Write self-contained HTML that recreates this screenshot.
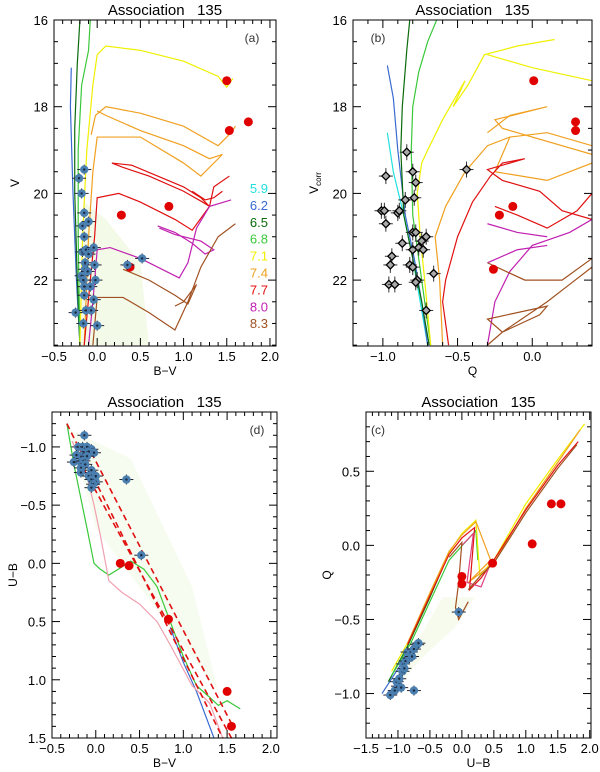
<!DOCTYPE html>
<html><head><meta charset="utf-8"><style>
html,body{margin:0;padding:0;background:#fff;}
svg{display:block;font-family:"Liberation Sans",sans-serif;}
</style></head><body>
<svg id="fig" width="600" height="772" viewBox="0 0 600 772" xmlns="http://www.w3.org/2000/svg"></svg>
<script>
// ---------- DATA ----------
const legendAges = ["5.9","6.2","6.5","6.8","7.1","7.4","7.7","8.0","8.3"];
const legendColors = ["#22e0e0","#3a6ad0","#0a6a0a","#3ac83a","#f0f000","#f0a020","#e01010","#c020b0","#a05020"];

// Panel a: B-V vs V
const aIso = [
 {c:"#3a6ad0", p:[[-0.3,17.1],[-0.31,18],[-0.28,20],[-0.24,22],[-0.2,23.5]]},
 {c:"#0a6a0a", p:[[-0.2,16],[-0.23,17],[-0.26,18.5],[-0.26,20],[-0.23,22],[-0.2,23.5]]},
 {c:"#3ac83a", p:[[-0.08,16],[-0.1,16.7],[-0.18,17.5],[-0.22,19],[-0.22,21],[-0.2,23.5]]},
 {c:"#f0f000", p:[[-0.2,23.5],[-0.17,21],[-0.12,19],[-0.05,17.5],[0.0,16.8],[0.1,16.6],[0.5,16.7],[1.0,16.95],[1.4,17.3],[1.5,17.55],[1.57,17.35]]},
 {c:"#f0a020", p:[[-0.07,18.65],[-0.02,18.2],[0.1,18.0],[0.5,18.15],[1.0,18.45],[1.4,18.9],[1.55,18.6],[1.6,18.45]]},
 {c:"#f0a020", p:[[0.0,18.1],[0.1,18.2],[0.5,18.55],[1.0,18.9],[1.3,19.2],[1.45,19.1]]},
 {c:"#f0a020", p:[[-0.15,23.5],[-0.1,21],[-0.05,19.5],[0.0,18.7],[0.5,18.7],[1.0,19.3],[1.2,19.6],[1.45,19.1]]},
 {c:"#e01010", p:[[-0.15,23.5],[-0.08,22],[-0.03,21],[0.0,20.1],[0.25,20.0],[0.5,20.2],[0.9,20.6],[1.1,20.85],[1.3,20.3],[1.35,19.85],[1.53,19.6]]},
 {c:"#e01010", p:[[0.17,19.3],[0.4,19.35],[0.7,19.6],[1.0,19.85],[1.2,20.1],[1.3,20.3],[1.22,20.2],[1.0,19.95],[0.6,19.6],[0.3,19.4],[0.17,19.3]]},
 {c:"#e01010", p:[[1.1,19.95],[1.25,20.15],[1.35,20.1],[1.45,19.95]]},
 {c:"#c020b0", p:[[-0.1,23.5],[-0.05,22.5],[0.0,21.3],[0.15,21.25],[0.5,21.5],[0.95,21.95],[1.05,21.6],[1.15,20.8],[1.3,20.3],[1.55,20.15]]},
 {c:"#c020b0", p:[[0.7,20.75],[0.9,20.9],[1.1,21.15],[1.25,21.4],[1.35,21.3],[1.2,21.1],[0.9,20.95],[0.72,20.8]]},
 {c:"#a05020", p:[[-0.05,23.5],[0.0,22.4],[0.3,22.4],[0.6,22.75],[0.9,23.15],[1.05,22.5],[1.2,21.7],[1.4,21.0],[1.6,20.7]]},
 {c:"#a05020", p:[[0.3,21.75],[0.6,22.0],[0.9,22.35],[1.05,22.55],[1.15,22.1],[1.0,22.5],[0.9,22.6]]}
];
const aRedX = [1.5,1.75,1.53,0.83,0.28,0.38];
const aRedY = [17.4,18.35,18.55,20.3,20.5,21.7];
const aBlueX = [-0.15,-0.21,-0.18,-0.15,-0.1,-0.17,-0.15,-0.17,-0.13,-0.1,-0.04,-0.14,-0.14,-0.03,-0.18,-0.16,-0.11,-0.15,-0.08,-0.02,-0.15,-0.04,-0.25,-0.13,-0.07,-0.16,0.0,0.35,0.52];
const aBlueY = [19.45,19.65,20.0,20.45,20.65,20.75,21.0,21.35,21.3,21.4,21.25,21.6,21.75,21.65,21.9,22.0,21.8,22.15,22.15,22.0,22.35,22.45,22.75,22.7,22.7,23.0,23.05,21.65,21.5];

// Panel b: Q vs Vcorr
const bIso = [
 {c:"#22e0e0", p:[[-0.97,18.6],[-0.93,19.5],[-0.86,20.5],[-0.8,21.5],[-0.75,22.5],[-0.7,23.5]]},
 {c:"#3a6ad0", p:[[-0.97,17.05],[-0.93,17.8],[-0.9,19],[-0.85,20.5],[-0.79,21.5],[-0.74,22.5],[-0.7,23.5]]},
 {c:"#0a6a0a", p:[[-0.82,16],[-0.84,16.7],[-0.87,18],[-0.88,19],[-0.86,20.5],[-0.8,21.5],[-0.74,22.5],[-0.69,23.5]]},
 {c:"#3ac83a", p:[[-0.64,16],[-0.7,16.5],[-0.76,17.2],[-0.8,18],[-0.81,19],[-0.8,20.5],[-0.76,21.5],[-0.72,22.5],[-0.68,23.5]]},
 {c:"#f0f000", p:[[-0.68,23.5],[-0.72,22],[-0.75,21],[-0.77,20],[-0.74,19.3],[-0.7,19.0],[-0.6,18.3],[-0.5,17.7],[-0.45,17.4],[-0.53,18],[-0.43,17.5],[-0.32,16.8],[-0.1,16.6],[0.15,16.45]]},
 {c:"#f0f000", p:[[-0.3,16.8],[0.0,17.1],[0.4,17.4]]},
 {c:"#f0a020", p:[[-0.6,23.5],[-0.62,22],[-0.65,21],[-0.58,20.3],[-0.45,19.5],[-0.3,18.9],[-0.15,18.7],[0.1,18.6],[0.4,18.9]]},
 {c:"#f0a020", p:[[-0.3,18.6],[-0.15,18.2],[0.1,18.0],[-0.25,18.3],[-0.2,18.5],[0.4,19.1]]},
 {c:"#f0a020", p:[[-0.15,18.7],[-0.25,19.5],[0.1,19.7],[0.4,19.3]]},
 {c:"#e01010", p:[[-0.56,23.5],[-0.6,22.5],[-0.58,22],[-0.5,21],[-0.4,20.2],[-0.28,19.6],[-0.2,19.3],[-0.05,19.2],[-0.3,19.45],[-0.2,19.7],[0.05,19.95],[0.2,20.4],[0.4,20.6]]},
 {c:"#e01010", p:[[-0.25,20.3],[-0.1,20.5],[0.1,20.8],[0.3,20.4],[0.4,20.0]]},
 {c:"#c020b0", p:[[-0.3,23.5],[-0.25,22.5],[-0.15,21.8],[0.0,21.2],[0.25,20.9],[0.4,20.6]]},
 {c:"#c020b0", p:[[-0.3,20.7],[-0.1,20.9],[0.1,21.0]]},
 {c:"#c020b0", p:[[-0.3,21.6],[-0.1,21.3],[0.1,21.2]]},
 {c:"#a05020", p:[[-0.3,23.5],[-0.2,23.2],[0.05,22.8],[0.1,22.6],[-0.3,22.9],[-0.2,23.2],[0.1,22.5],[0.25,22.1],[0.4,21.7]]},
 {c:"#a05020", p:[[-0.3,21.6],[-0.05,22.0],[0.2,22.0],[0.4,21.5]]}
];
const bRedX = [0.01,0.29,0.29,-0.13,-0.22,-0.26];
const bRedY = [17.4,18.35,18.55,20.3,20.5,21.75];
const bStarX = [-0.84,-0.8,-0.98,-0.78,-0.44,-0.85,-0.79,-1.01,-0.99,-0.9,-0.89,-0.98,-0.87,-0.8,-0.78,-0.71,-0.74,-0.8,-0.76,-0.73,-0.94,-0.95,-0.82,-0.8,-0.66,-0.77,-0.78,-0.96,-0.92,-0.71];
const bStarY = [19.05,19.5,19.6,19.75,19.45,20.15,20.1,20.4,20.4,20.45,20.4,20.7,21.15,20.9,20.9,21.0,21.1,21.3,21.25,21.3,21.45,21.65,21.65,21.7,21.85,22.0,22.05,22.1,22.1,22.7];

// Panel d: B-V vs U-B
const dLines = [
 {c:"#3ac83a", d:false, p:[[-0.33,-1.2],[-0.25,-0.85],[-0.1,-0.3],[-0.02,0.0],[0.05,0.05],[0.15,0.1],[0.3,0.03],[0.4,-0.02],[0.55,0.05],[0.7,0.2],[0.85,0.5],[1.0,0.8],[1.15,1.05],[1.3,1.15],[1.4,1.22],[1.5,1.18],[1.65,1.25]]},
 {c:"#3a6ad0", d:false, p:[[0.85,0.55],[1.0,0.85],[1.15,1.1],[1.35,1.5]]},
 {c:"#f0a0b0", d:false, p:[[-0.27,-1.05],[-0.1,-0.75],[-0.02,-0.5],[0.05,-0.25],[0.15,0.15],[0.3,0.25],[0.5,0.35],[0.7,0.5],[0.85,0.7],[1.1,1.05],[1.3,1.2],[1.45,1.5]]},
 {c:"#e01010", d:true, p:[[-0.33,-1.2],[1.45,1.5]]},
 {c:"#e01010", d:true, p:[[-0.24,-0.95],[1.55,1.5]]},
 {c:"#e01010", d:true, p:[[-0.05,-0.95],[1.58,1.42]]}
];
const dRedX = [0.28,0.38,0.83,1.5,1.55];
const dRedY = [0.0,0.02,0.48,1.1,1.4];
const dBlueX = [-0.13,-0.2,-0.15,-0.1,-0.05,-0.13,-0.08,-0.02,-0.22,-0.15,-0.1,-0.25,-0.17,-0.14,-0.12,-0.17,-0.05,-0.17,-0.08,0.0,-0.05,0.0,-0.03,-0.05,0.35,0.52];
const dBlueY = [-1.1,-1.0,-1.0,-1.0,-0.98,-0.95,-0.96,-0.95,-0.93,-0.9,-0.92,-0.87,-0.87,-0.88,-0.85,-0.82,-0.8,-0.78,-0.75,-0.75,-0.72,-0.7,-0.68,-0.65,-0.72,-0.07];

// Panel c: U-B vs Q
const cLines = [
 {c:"#3a6ad0", p:[[-1.25,-1.0],[-0.95,-0.8],[-0.85,-0.7]]},
 {c:"#0a6a0a", p:[[-1.15,-0.92],[-0.85,-0.68],[-0.5,-0.35],[-0.3,-0.15]]},
 {c:"#3ac83a", p:[[-1.1,-0.88],[-0.8,-0.66],[-0.5,-0.38],[-0.2,-0.1],[0.05,0.02],[0.22,0.1],[0.25,-0.1]]},
 {c:"#f0f000", p:[[-1.1,-0.85],[-0.8,-0.62],[-0.5,-0.33],[-0.2,-0.05],[0.0,0.08],[0.22,0.17],[0.28,-0.2],[0.5,-0.1],[1.0,0.28],[1.5,0.58],[1.92,0.82]]},
 {c:"#f0a020", p:[[-0.85,-0.66],[-0.5,-0.32],[-0.2,-0.04],[0.0,0.07],[0.22,0.16],[0.45,-0.1],[0.1,-0.25],[0.5,-0.12],[1.0,0.25],[1.5,0.56],[1.85,0.78]]},
 {c:"#e01010", p:[[-0.85,-0.67],[-0.5,-0.34],[-0.2,-0.06],[0.0,0.05],[0.2,0.12],[0.12,-0.3],[0.3,-0.22],[0.5,-0.1],[1.0,0.24],[1.5,0.54],[1.82,0.7]]},
 {c:"#e04080", p:[[0.0,0.0],[0.18,0.08],[0.08,-0.25],[0.3,-0.28],[0.45,-0.12]]},
 {c:"#a05020", p:[[-0.2,-0.08],[0.0,0.02],[-0.05,-0.25],[-0.1,-0.42],[-0.05,-0.5],[0.1,-0.38]]},
 {c:"#a05020", p:[[0.1,-0.3],[0.3,-0.2],[0.5,-0.12],[1.0,0.22],[1.5,0.52],[1.8,0.68]]}
];
const cRedX = [0.0,0.0,0.48,1.1,1.4,1.55];
const cRedY = [-0.21,-0.26,-0.12,0.01,0.28,0.28];
const cBlueX = [-0.05,-0.75,-1.12,-1.05,-1.0,-1.02,-0.98,-0.95,-0.93,-0.92,-0.88,-0.85,-0.8,-0.82,-0.78,-0.75,-0.7,-0.68,-0.9];
const cBlueY = [-0.45,-0.98,-1.01,-0.98,-0.95,-0.92,-0.9,-0.96,-0.85,-0.8,-0.78,-0.72,-0.72,-0.76,-0.75,-0.7,-0.67,-0.66,-0.83];

// ---------- DRAWING ----------
const NS = "http://www.w3.org/2000/svg";
const svg = document.getElementById("fig");
function mk(tag, attrs, parent) {
  const e = document.createElementNS(NS, tag);
  for (const k in attrs) e.setAttribute(k, attrs[k]);
  (parent || svg).appendChild(e);
  return e;
}
function txt(s, x, y, size, anchor, parent, fill) {
  const t = mk("text", {x:x, y:y, "font-size":size, "text-anchor":anchor || "middle", fill: fill || "#000"}, parent);
  t.textContent = s;
  return t;
}
function panel(cfg) {
  const g = mk("g", {});
  
  
  const sx = v => cfg.x0 + (v - cfg.xmin) / (cfg.xmax - cfg.xmin) * (cfg.x1 - cfg.x0);
  const sy = v => cfg.y0 + (v - cfg.ymin) / (cfg.ymax - cfg.ymin) * (cfg.y1 - cfg.y0);
  const clipId = "clip-" + cfg.name;
  const cp = mk("clipPath", {id: clipId}, g);
  mk("rect", {x:cfg.x0, y:cfg.y0, width:cfg.x1-cfg.x0, height:cfg.y1-cfg.y0}, cp);
  const inner = mk("g", {"clip-path":"url(#"+clipId+")"}, g);
  if (cfg.haze) {
    const h = mk("polygon", {points: cfg.haze.map(p => sx(p[0])+","+sy(p[1])).join(" "), fill:"#e4f4cc", opacity:cfg.hazeOp || "0.5"}, inner);
    
    
  }
  return {g, inner, sx, sy};
}
function frame(P, cfg) {
  const g = P.g;
  const fr = mk("rect", {x:cfg.x0, y:cfg.y0, width:cfg.x1-cfg.x0, height:cfg.y1-cfg.y0, fill:"none", stroke:"#000", "stroke-width":"1"}, g);
  
  
  const eps = 1e-6;
  const xs = Math.ceil((cfg.xmin - eps) / cfg.xminor);
  for (let i = xs; i * cfg.xminor <= cfg.xmax + eps; i++) {
    const v = i * cfg.xminor;
    const major = Math.abs(v / cfg.xmajor - Math.round(v / cfg.xmajor)) < 1e-4;
    const L = major ? 8 : 4;
    const X = P.sx(v);
    mk("line", {x1:X, y1:cfg.y1, x2:X, y2:cfg.y1-L, stroke:"#000"}, g);
    mk("line", {x1:X, y1:cfg.y0, x2:X, y2:cfg.y0+L, stroke:"#000"}, g);
    if (major) {
      const t = txt((Math.abs(v) < 1e-9 ? 0 : v).toFixed(1).replace("-", "\u2212"), X, cfg.y1 + 15, 13, "middle", g);
      
      
    }
  }
  const lo = Math.min(cfg.ymin, cfg.ymax), hi = Math.max(cfg.ymin, cfg.ymax);
  const ys = Math.ceil((lo - eps) / cfg.yminor);
  for (let i = ys; i * cfg.yminor <= hi + eps; i++) {
    const v = i * cfg.yminor;
    const major = Math.abs(v / cfg.ymajor - Math.round(v / cfg.ymajor)) < 1e-4;
    const L = major ? 8 : 4;
    const Y = P.sy(v);
    mk("line", {x1:cfg.x0, y1:Y, x2:cfg.x0+L, y2:Y, stroke:"#000"}, g);
    mk("line", {x1:cfg.x1, y1:Y, x2:cfg.x1-L, y2:Y, stroke:"#000"}, g);
    if (major) {
      const s = cfg.ydec === 0 ? String(Math.round(v)) : (Math.abs(v) < 1e-9 ? 0 : v).toFixed(1).replace("-", "\u2212");
      const t = txt(s, cfg.x0 - 6, Y + 5, 13, "end", g);
      
      
    }
  }
  const ti = txt("Association   135", (cfg.x0 + cfg.x1) / 2, cfg.y0 - 5, 15, "middle", g);
  ti.setAttribute("xml:space", "preserve");
  ti.style.whiteSpace = "pre";
  
  
  const xl = txt(cfg.xlabel, (cfg.x0 + cfg.x1) / 2, cfg.y1 + 29, 12, "middle", g);
  
  
  const yl = mk("text", {x:0, y:0, "font-size":12, "text-anchor":"middle", transform:"translate("+(cfg.x0-35)+","+((cfg.y0+cfg.y1)/2)+") rotate(-90)"}, g);
  yl.innerHTML = cfg.ylabel;
  
  
  const pl = txt(cfg.tag, cfg.tagx, cfg.y0 + 22, 12, "middle", g, "#333");
  
  
}
function lines(P, arr) {
  arr.forEach(L => {
    const pl = mk("polyline", {points: L.p.map(p => P.sx(p[0]) + "," + P.sy(p[1])).join(" "), fill:"none", stroke:L.c, "stroke-width": L.d ? 1.6 : 1.2, "stroke-dasharray": L.d ? "6,4" : "none"}, P.inner);
    
    
  });
}
function reds(P, X, Y) {
  for (let i = 0; i < X.length; i++) {
    const c = mk("circle", {cx:P.sx(X[i]), cy:P.sy(Y[i]), r:4.5, fill:"#e00000"}, P.inner);
    
    
  }
}
function blues(P, X, Y) {
  for (let i = 0; i < X.length; i++) {
    const x = P.sx(X[i]), y = P.sy(Y[i]);
    const g = mk("g", {}, P.inner);
    
    
    mk("line", {x1:x-7, y1:y, x2:x+7, y2:y, stroke:"#223", "stroke-width":1}, g);
    mk("line", {x1:x, y1:y-5, x2:x, y2:y+5, stroke:"#223", "stroke-width":1}, g);
    mk("circle", {cx:x, cy:y, r:4.2, fill:"#4a7fb0"}, g);
    mk("circle", {cx:x, cy:y, r:1.2, fill:"#1a2a40"}, g);
  }
}
function stars(P, X, Y) {
  for (let i = 0; i < X.length; i++) {
    const x = P.sx(X[i]), y = P.sy(Y[i]);
    const g = mk("g", {}, P.inner);
    
    
    mk("line", {x1:x-7, y1:y, x2:x+7, y2:y, stroke:"#333", "stroke-width":1}, g);
    mk("line", {x1:x, y1:y-8, x2:x, y2:y+8, stroke:"#333", "stroke-width":1}, g);
    mk("polygon", {points:(x)+","+(y-4)+" "+(x+4)+","+y+" "+x+","+(y+4)+" "+(x-4)+","+y, fill:"#aaa", stroke:"#000", "stroke-width":1.3}, g);
  }
}

const A = {name:"panel-a", x0:54, x1:276, y0:20, y1:346, xmin:-0.5, xmax:2.07, ymin:16, ymax:23.52,
  xmajor:0.5, xminor:0.1, ymajor:2, yminor:0.5, ydec:0, xlabel:"B\u2212V", ylabel:"V", tag:"(a)", tagx:252,
  haze:[[-0.2,23.5],[-0.15,20.2],[0.1,20.6],[0.5,21.6],[0.6,23.5]], hazeOp:"0.45"};
const PA = panel(A);
lines(PA, aIso); reds(PA, aRedX, aRedY); blues(PA, aBlueX, aBlueY);
frame(PA, A);
legendAges.forEach((s, i) => {
  const t = txt(s, 268, 193 + i * 16.9, 13, "end", PA.g, legendColors[i]);
  
  
});

const B = {name:"panel-b", x0:353, x1:592, y0:20, y1:346, xmin:-1.2, xmax:0.4, ymin:16, ymax:23.52,
  xmajor:0.5, xminor:0.1, ymajor:2, yminor:0.5, ydec:0, xlabel:"Q", ylabel:"V<tspan font-size='8' dy='3'>corr</tspan>", tag:"(b)", tagx:378};
const PB = panel(B);
lines(PB, bIso); reds(PB, bRedX, bRedY); stars(PB, bStarX, bStarY);
frame(PB, B);

const D = {name:"panel-d", x0:52, x1:277, y0:412, y1:738, xmin:-0.5, xmax:2.07, ymin:-1.3, ymax:1.5,
  xmajor:0.5, xminor:0.1, ymajor:0.5, yminor:0.1, ydec:1, xlabel:"B\u2212V", ylabel:"U\u2212B", tag:"(d)", tagx:257,
  haze:[[-0.3,-1.15],[0.4,-0.9],[1.1,0.2],[1.4,1.1],[0.9,0.6],[0.0,-0.3]], hazeOp:"0.3"};
const PD = panel(D);
lines(PD, dLines); reds(PD, dRedX, dRedY); blues(PD, dBlueX, dBlueY);
frame(PD, D);

const C = {name:"panel-c", x0:366, x1:591, y0:412, y1:738, xmin:-1.5, xmax:2.02, ymin:0.9, ymax:-1.3,
  xmajor:0.5, xminor:0.1, ymajor:0.5, yminor:0.1, ydec:1, xlabel:"U\u2212B", ylabel:"Q", tag:"(c)", tagx:378,
  haze:[[-1.1,-1.0],[-0.6,-0.75],[-0.1,-0.55],[0.2,-0.35],[-0.3,-0.35],[-0.9,-0.8]], hazeOp:"0.35"};
const PC = panel(C);
lines(PC, cLines); reds(PC, cRedX, cRedY); blues(PC, cBlueX, cBlueY);
frame(PC, C);
</script>
</body></html>
